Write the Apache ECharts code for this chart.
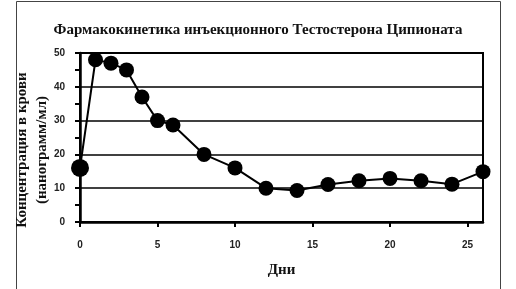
<!DOCTYPE html>
<html><head><meta charset="utf-8">
<script src="https://cdn.jsdelivr.net/npm/echarts@6/dist/echarts.min.js"></script>
<style>html,body{margin:0;padding:0;background:#fff}#c{width:516px;height:289px}</style>
</head><body><div id="c"></div>
<script>
var titleText = 'Фармакокинетика инъекционного Тестостерона Ципионата';
var xName = 'Дни';
var yName = 'Концентрация в крови\n(нанограмм/мл)';
var days = [0, 1, 2, 3, 4, 5, 6, 8, 10, 12, 14, 16, 18, 20, 22, 24, 26];
var conc = [16, 48, 47, 45, 37, 30, 28.7, 20, 16, 10, 9.3, 11.1, 12.2, 12.9, 12.2, 11.2, 14.9];

var chart = echarts.init(document.getElementById('c'), null, {renderer: 'canvas'});
var serif = '"Liberation Serif", "DejaVu Serif", serif';
var sans = '"Liberation Sans", Arial, sans-serif';
chart.setOption({
  animation: false,
  backgroundColor: '#fff',
  title: {
    text: titleText, left: 'center', top: 18,
    textStyle: {fontFamily: serif, fontWeight: 'bold', fontSize: 15, color: '#111'}
  },
  graphic: [{
    type: 'rect', shape: {x: 16.5, y: 1.5, width: 484, height: 300},
    style: {fill: null, stroke: '#444', lineWidth: 1}, silent: true
  }, {
    type: 'text', x: 32, y: 150, rotation: Math.PI / 2,
    style: {text: yName, fontFamily: serif, fontWeight: 'bold', fontSize: 15, lineHeight: 20,
      fill: '#111', align: 'center', verticalAlign: 'middle'}, silent: true
  }],
  grid: {left: 80, right: 33, top: 53, bottom: 67, show: true, borderColor: '#000', borderWidth: 2, backgroundColor: 'transparent'},
  xAxis: {
    type: 'value', min: 0, max: 26, interval: 5,
    name: xName, nameLocation: 'middle', nameGap: 41,
    nameTextStyle: {fontFamily: serif, fontWeight: 'bold', fontSize: 15, color: '#111'},
    axisLine: {show: true, lineStyle: {color: '#000', width: 2.5}},
    axisTick: {show: true, length: 5, lineStyle: {color: '#000', width: 2}},
    axisLabel: {fontFamily: sans, fontWeight: 'bold', fontSize: 10, color: '#222', margin: 18, showMaxLabel: false},
    splitLine: {show: false}
  },
  yAxis: {
    type: 'value', min: 0, max: 50, interval: 10,
    axisLine: {show: true, lineStyle: {color: '#000', width: 2.5}},
    axisTick: {show: true, length: 5, lineStyle: {color: '#000', width: 2}},
    minorTick: {show: true, splitNumber: 2, length: 5, lineStyle: {color: '#000', width: 2}},
    axisLabel: {fontFamily: sans, fontWeight: 'bold', fontSize: 10, color: '#222', margin: 15},
    splitLine: {show: true, lineStyle: {color: '#000', width: 1.5}}
  },
  series: [{
    type: 'line',
    data: days.map(function (d, i) { return [d, conc[i]]; }),
    symbol: 'circle',
    symbolSize: function (v, p) { return p.dataIndex === 0 ? 18 : 15; },
    itemStyle: {color: '#000'},
    lineStyle: {color: '#000', width: 2},
    z: 5
  }]
});
</script></body></html>
